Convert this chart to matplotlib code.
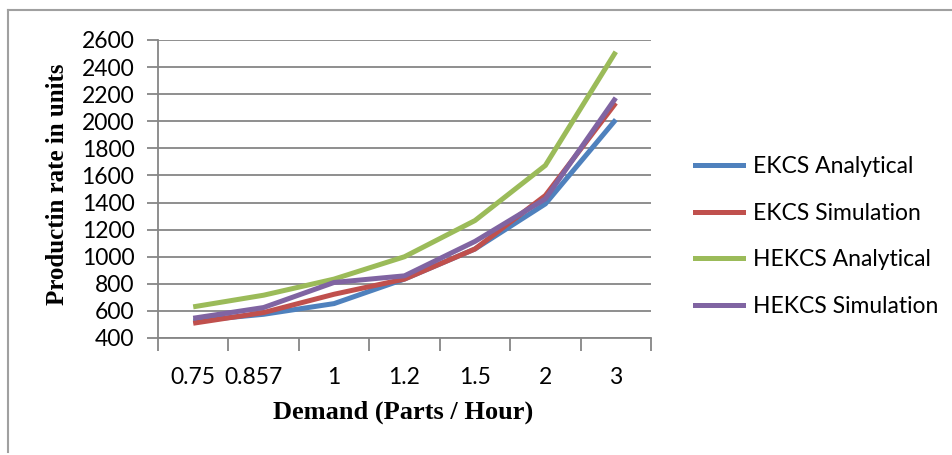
import matplotlib
matplotlib.use("Agg")
import matplotlib.pyplot as plt
from matplotlib.lines import Line2D
from matplotlib.transforms import ScaledTranslation
import numpy as np

# Demand categories (parts / hour)
demand_labels = ["0.75", "0.857", "1", "1.2", "1.5", "2", "3"]

# Production rate in units for each model
ekcs_analytical = [526, 575, 654, 835, 1057, 1390, 2012]
ekcs_simulation = [509, 588, 723, 835, 1057, 1452, 2135]
hekcs_analytical = [630, 716, 835, 1000, 1267, 1674, 2513]
hekcs_simulation = [546, 625, 810, 859, 1113, 1427, 2173]

series_names = ["EKCS Analytical", "EKCS Simulation", "HEKCS Analytical", "HEKCS Simulation"]
series_values = [ekcs_analytical, ekcs_simulation, hekcs_analytical, hekcs_simulation]
series_colors = ["#4F81BD", "#C0504D", "#9BBB59", "#8064A2"]

y_ticks = list(range(400, 2601, 200))

W, H = 953, 455
fig = plt.figure(figsize=(W / 100, H / 100), dpi=100)

ax = fig.add_axes([158 / W, 1 - 338 / H, (651 - 158) / W, (338 - 40) / H])
x = np.arange(len(demand_labels))

for vals, name, col in zip(series_values, series_names, series_colors):
    ax.plot(x, vals, color=col, lw=3.6, label=name, solid_capstyle="butt",
            solid_joinstyle="miter", zorder=3)

grid_col = "#868686"
ax.set_xlim(-0.5, len(demand_labels) - 0.5)
ax.set_ylim(400, 2600)
ax.set_yticks(y_ticks)
ax.yaxis.grid(True, color=grid_col, lw=1.3)
ax.set_axisbelow(True)

for side in ("top", "right"):
    ax.spines[side].set_visible(False)
for side in ("left", "bottom"):
    ax.spines[side].set_color(grid_col)
    ax.spines[side].set_linewidth(1.3)

tick_font = "Lato"
tick_size = 16.5
ax.set_xticks(x)
ax.set_xticklabels(demand_labels, fontsize=tick_size, family=tick_font)
ax.set_xticks(np.arange(-0.5, len(demand_labels)), minor=True)
ax.tick_params(axis="x", which="major", length=0, pad=21)
ax.tick_params(axis="x", which="minor", length=9, width=1.3, color=grid_col)
ax.tick_params(axis="y", length=8, width=1.3, color=grid_col, pad=9)
for t in ax.get_yticklabels():
    t.set_fontsize(tick_size)
    t.set_family(tick_font)

# nudge the crowded second category label to the left
lbl = ax.get_xticklabels()[1]
lbl.set_transform(lbl.get_transform() + ScaledTranslation(-0.10, 0, fig.dpi_scale_trans))

fig.text(403 / W, 1 - 412 / H, "Demand (Parts / Hour)", ha="center", va="center",
         fontsize=19, fontweight="bold", family="Liberation Serif")
fig.text(58 / W, 1 - 184 / H, "Productin rate in units", ha="center", va="center",
         rotation=90, fontsize=18, fontweight="bold", family="Liberation Serif")

handles = [Line2D([], [], color=c, lw=3.6) for c in series_colors]
fig.legend(handles, series_names, loc="upper left",
           bbox_to_anchor=(686 / W, 1 - 147 / H), frameon=False,
           prop={"family": tick_font, "size": tick_size}, handlelength=2.1,
           handletextpad=0.42, labelspacing=1.12, borderaxespad=0)

# outer chart border
border_col = "#A0A0A0"
fig.add_artist(Line2D([8 / W, 1], [1 - 10 / H, 1 - 10 / H], color=border_col, lw=1.5,
                      transform=fig.transFigure))
fig.add_artist(Line2D([8 / W, 8 / W], [1 - 10 / H, 1 - 452 / H], color=border_col, lw=1.5,
                      transform=fig.transFigure))

fig.savefig("out.png", dpi=100)
